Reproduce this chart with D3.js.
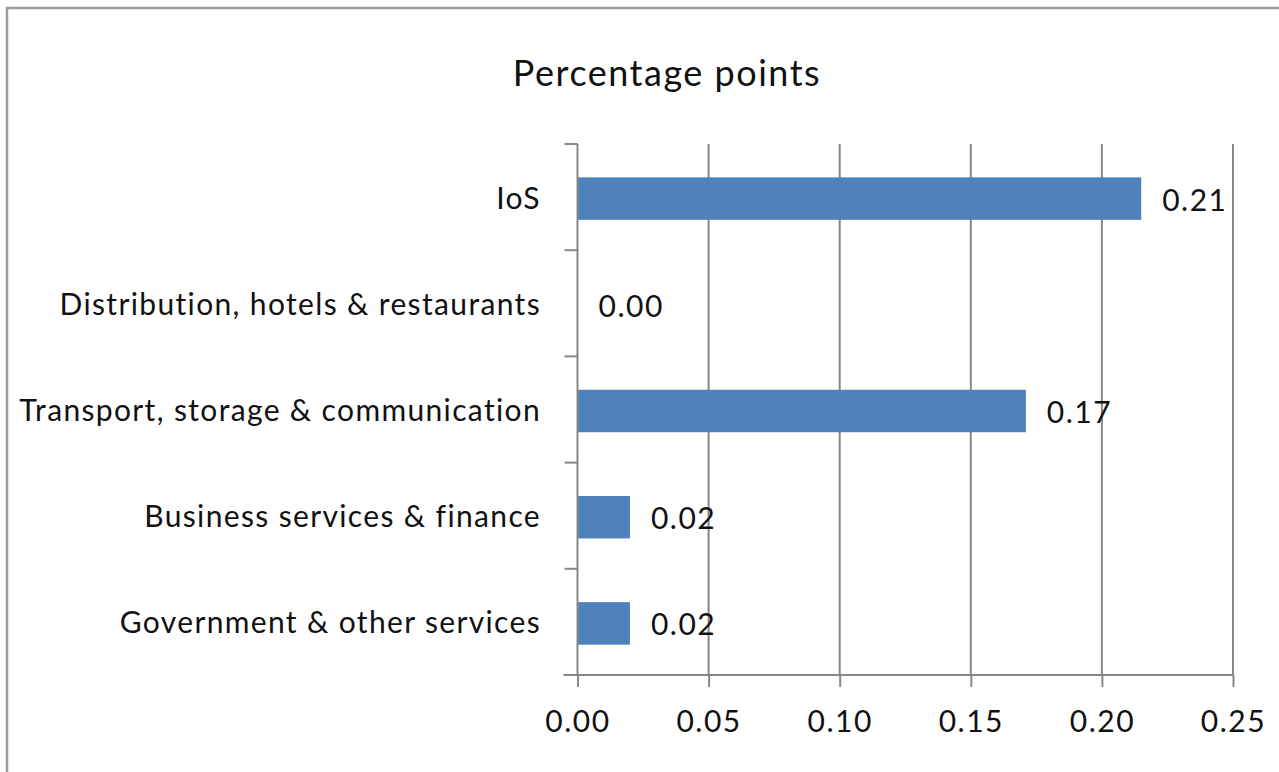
<!DOCTYPE html>
<html>
<head>
<meta charset="utf-8">
<script src="https://cdn.jsdelivr.net/npm/d3@7"></script>
<style>
  html, body { margin: 0; padding: 0; background: #fff; }
  svg { display: block; font-family: Lato, "Open Sans", sans-serif; }
</style>
</head>
<body>
<svg id="chart" width="1279" height="772"></svg>
<script>
// Percentage point contributions by sector
const categories = [
  'IoS',
  'Distribution, hotels & restaurants',
  'Transport, storage & communication',
  'Business services & finance',
  'Government & other services'
];
const values = [0.215, 0.0, 0.171, 0.02, 0.02];
const valueLabels = ['0.21', '0.00', '0.17', '0.02', '0.02'];
const xTicks = [0, 0.05, 0.10, 0.15, 0.20, 0.25];

const svg = d3.select('#chart');

// frame around the chart (runs off the right/bottom edge)
svg.append('rect')
  .attr('x', 7).attr('y', 8)
  .attr('width', 1400).attr('height', 900)
  .attr('fill', 'none')
  .attr('stroke', '#9a9a9a')
  .attr('stroke-width', 2.5);

svg.append('text')
  .attr('x', 667).attr('y', 86)
  .attr('text-anchor', 'middle')
  .attr('font-size', 36)
  .attr('letter-spacing', 1.5)
  .attr('fill', '#111')
  .text('Percentage points');

const plotLeft = 577.5, plotRight = 1233, plotTop = 144, plotBottom = 675;

const x = d3.scaleLinear().domain([0, 0.25]).range([plotLeft, plotRight]);
const y = d3.scaleBand().domain(categories).range([plotTop, plotBottom])
  .paddingInner(0.6).paddingOuter(0.3);

const axisColor = '#878787';

// vertical gridlines
svg.append('g')
  .selectAll('line')
  .data(xTicks.slice(1))
  .join('line')
  .attr('x1', d => x(d)).attr('x2', d => x(d))
  .attr('y1', plotTop).attr('y2', plotBottom)
  .attr('stroke', axisColor).attr('stroke-width', 2);

// bars
svg.append('g')
  .selectAll('rect')
  .data(categories)
  .join('rect')
  .attr('x', x(0))
  .attr('y', d => y(d) + 1.5)
  .attr('width', (d, i) => x(values[i]) - x(0))
  .attr('height', y.bandwidth())
  .attr('fill', '#4f81bd');

// y axis line + boundary ticks
const yAxis = svg.append('g');
yAxis.append('line')
  .attr('x1', plotLeft).attr('x2', plotLeft)
  .attr('y1', plotTop).attr('y2', plotBottom)
  .attr('stroke', axisColor).attr('stroke-width', 2);
const step = y.step();
yAxis.selectAll('line.tick')
  .data(d3.range(categories.length))
  .join('line')
  .attr('class', 'tick')
  .attr('x1', plotLeft - 13).attr('x2', plotLeft)
  .attr('y1', i => plotTop + i * step).attr('y2', i => plotTop + i * step)
  .attr('stroke', axisColor).attr('stroke-width', 2);

// x axis
const xAxis = svg.append('g')
  .attr('transform', `translate(0,${plotBottom})`)
  .call(d3.axisBottom(x).tickValues(xTicks).tickFormat(d3.format('.2f'))
    .tickSize(12).tickSizeOuter(0).tickPadding(24));
xAxis.select('.domain').remove();
xAxis.insert('line', ':first-child')
  .attr('x1', plotLeft - 14).attr('x2', plotRight)
  .attr('stroke', axisColor).attr('stroke-width', 2);
xAxis.selectAll('.tick line').attr('stroke', axisColor).attr('stroke-width', 2);
xAxis.selectAll('.tick text')
  .attr('font-size', 30)
  .attr('font-family', 'Lato, sans-serif')
  .attr('letter-spacing', 1.5)
  .attr('fill', '#111');

// category labels
svg.append('g')
  .selectAll('text')
  .data(categories)
  .join('text')
  .attr('x', 541)
  .attr('y', d => y(d) + y.bandwidth() / 2)
  .attr('dy', '0.38em')
  .attr('text-anchor', 'end')
  .attr('font-size', 30)
  .attr('letter-spacing', 1.35)
  .attr('fill', '#111')
  .text(d => d);

// value labels
svg.append('g')
  .selectAll('text')
  .data(categories)
  .join('text')
  .attr('x', (d, i) => x(values[i]) + 21)
  .attr('y', d => y(d) + y.bandwidth() / 2)
  .attr('dy', '0.45em')
  .attr('font-size', 30)
  .attr('letter-spacing', 1.5)
  .attr('fill', '#111')
  .text((d, i) => valueLabels[i]);
</script>
</body>
</html>
